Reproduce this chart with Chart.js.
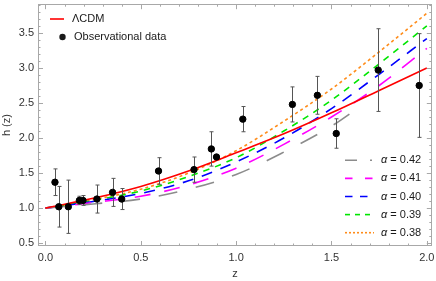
<!DOCTYPE html>
<html>
<head>
<meta charset="utf-8">
<script src="https://cdn.jsdelivr.net/npm/chart.js@4"></script>
<style>
  html, body { margin: 0; padding: 0; background: #fff; }
  #wrap { width: 436px; height: 281px; }
</style>
</head>
<body>
<div id="wrap"><canvas id="hzChart" width="436" height="281"></canvas></div>
<script>
// model curves at these z values
const zCurve = [0, 0.25, 0.5, 0.75, 1.0, 1.25, 1.5, 1.75, 2.0];
const hLCDM = [1.00, 1.14, 1.31, 1.53, 1.79, 2.06, 2.36, 2.68, 3.00];
const hA038 = [1.00, 1.12, 1.27, 1.50, 1.82, 2.24, 2.70, 3.23, 3.78];
const hA039 = [1.00, 1.11, 1.245, 1.45, 1.72, 2.10, 2.54, 3.06, 3.60];
const hA040 = [1.00, 1.095, 1.21, 1.39, 1.66, 2.00, 2.42, 2.91, 3.42];
const hA041 = [1.00, 1.08, 1.17, 1.33, 1.57, 1.91, 2.30, 2.75, 3.28];
const zA042 = [0, 0.25, 0.5, 0.75, 1.0, 1.25, 1.5, 1.65];
const hA042 = [1.00, 1.06, 1.13, 1.27, 1.48, 1.80, 2.17, 2.45];

// observational h(z) points with errors
const obsZ = [0.05, 0.07, 0.12, 0.178, 0.197, 0.27, 0.352, 0.40, 0.593, 0.779, 0.87, 0.897, 1.035, 1.295, 1.426, 1.525, 1.745, 1.96];
const obsH = [1.37, 1.02, 1.02, 1.11, 1.11, 1.13, 1.225, 1.13, 1.53, 1.55, 1.845, 1.73, 2.27, 2.48, 2.61, 2.065, 2.97, 2.75];
const obsErr = [0.19, 0.29, 0.38, 0.06, 0.07, 0.20, 0.20, 0.15, 0.19, 0.18, 0.245, 0.0, 0.18, 0.25, 0.27, 0.21, 0.59, 0.74];

const xTicks = [0, 0.5, 1.0, 1.5, 2.0];
const yTicks = [0.5, 1.0, 1.5, 2.0, 2.5, 3.0, 3.5];

const FONT = "'Liberation Sans', Arial, sans-serif";

function pts(xs, ys) {
    return xs.map((x, i) => ({ x: x, y: ys[i] }));
}

function curve(label, xs, ys, color, dash, order) {
    return {
        label: label,
        data: pts(xs, ys),
        showLine: true,
        borderColor: color,
        borderWidth: 1.6,
        borderDash: dash,
        pointRadius: 0,
        cubicInterpolationMode: 'monotone',
        order: order
    };
}

// legend entries drawn in the plot corner
const altLegend = [
    { text: '0.42', color: '#8c8c8c', dash: [12, 13, 2, 100] },
    { text: '0.41', color: '#ff00ff', dash: [7.5, 12.5] },
    { text: '0.40', color: '#0000ff', dash: [7.5, 7.5] },
    { text: '0.39', color: '#00e600', dash: [5, 5] },
    { text: '0.38', color: '#ff8c1a', dash: [2, 2] }
];

const framePlugin = {
    id: 'frame',
    beforeDatasetDraw(chart, args) {
        if (args.index !== 0) return;
        const ctx = chart.ctx, xs = chart.scales.x, ys = chart.scales.y;
        ctx.save();
        ctx.strokeStyle = '#555';
        ctx.lineWidth = 1;
        obsZ.forEach((z, i) => {
            if (!obsErr[i]) return;
            const px = Math.round(xs.getPixelForValue(z)) + 0.5;
            const top = ys.getPixelForValue(obsH[i] + obsErr[i]);
            const bot = ys.getPixelForValue(obsH[i] - obsErr[i]);
            ctx.beginPath();
            ctx.moveTo(px, top); ctx.lineTo(px, bot);
            ctx.moveTo(px - 2, top); ctx.lineTo(px + 2, top);
            ctx.moveTo(px - 2, bot); ctx.lineTo(px + 2, bot);
            ctx.stroke();
        });
        ctx.restore();
    },
    afterDraw(chart) {
        const ctx = chart.ctx, a = chart.chartArea;
        const xs = chart.scales.x, ys = chart.scales.y;
        ctx.save();
        ctx.strokeStyle = '#a8a8a8';
        ctx.lineWidth = 1;
        ctx.strokeRect(Math.round(a.left) + 0.5, Math.round(a.top) + 0.5,
            Math.round(a.right - a.left) - 1, Math.round(a.bottom - a.top) - 1);
        ctx.beginPath();
        for (let k = 0; k <= 20; k++) {
            const v = k / 10;
            const len = k % 5 === 0 ? 5 : 2.5;
            const px = Math.round(xs.getPixelForValue(v)) + 0.5;
            ctx.moveTo(px, a.bottom); ctx.lineTo(px, a.bottom - len);
            ctx.moveTo(px, a.top); ctx.lineTo(px, a.top + len);
        }
        for (let k = 5; k <= 39; k++) {
            const v = k / 10;
            const len = k % 5 === 0 ? 5 : 2.5;
            const py = Math.round(ys.getPixelForValue(v)) + 0.5;
            ctx.moveTo(a.left, py); ctx.lineTo(a.left + len, py);
            ctx.moveTo(a.right, py); ctx.lineTo(a.right - len, py);
        }
        ctx.stroke();

        // top-left legend
        ctx.font = '11px ' + FONT;
        ctx.fillStyle = '#1a1a1a';
        ctx.textBaseline = 'middle';
        ctx.strokeStyle = '#ff0000';
        ctx.lineWidth = 1.6;
        ctx.setLineDash([]);
        ctx.beginPath();
        ctx.moveTo(50, 19); ctx.lineTo(64, 19);
        ctx.stroke();
        ctx.fillText('\u039BCDM', 72, 19);
        ctx.beginPath();
        ctx.arc(62.5, 37, 3.2, 0, Math.PI * 2);
        ctx.fill();
        ctx.fillText('Observational data', 74, 37);

        // bottom-right legend
        altLegend.forEach((e, i) => {
            const y = 160.3 + i * 18.1;
            ctx.strokeStyle = e.color;
            ctx.lineWidth = 1.6;
            ctx.setLineDash(e.dash);
            ctx.beginPath();
            ctx.moveTo(345, y); ctx.lineTo(374, y);
            ctx.stroke();
            ctx.setLineDash([]);
            ctx.font = 'italic 11px ' + FONT;
            ctx.fillText('\u03B1', 381, y);
            const w = ctx.measureText('\u03B1').width;
            ctx.font = '11px ' + FONT;
            ctx.fillText(' = ' + e.text, 381 + w, y);
        });
        ctx.restore();
    }
};

const ctx = document.getElementById('hzChart').getContext('2d');
const hzChart = new Chart(ctx, {
    type: 'scatter',
    data: {
        datasets: [
            {
                label: 'Observational data',
                data: pts(obsZ, obsH),
                backgroundColor: '#000',
                borderColor: '#000',
                pointRadius: 3.2,
                pointHoverRadius: 3.2,
                order: 0
            },
            curve('\u039BCDM', zCurve, hLCDM, '#ff0000', [], 1),
            curve('\u03B1 = 0.42', zA042, hA042, '#8c8c8c', [19, 19], 2),
            curve('\u03B1 = 0.41', zCurve, hA041, '#ff00ff', [16, 14], 2),
            curve('\u03B1 = 0.40', zCurve, hA040, '#0000ff', [11, 9], 2),
            curve('\u03B1 = 0.39', zCurve, hA039, '#00e600', [6.5, 6], 2),
            curve('\u03B1 = 0.38', zCurve, hA038, '#ff8c1a', [3, 3], 2)
        ]
    },
    options: {
        responsive: false,
        animation: false,
        devicePixelRatio: 1,
        layout: { padding: { top: 1, right: 3, left: 0, bottom: 0 } },
        plugins: { legend: { display: false }, tooltip: { enabled: false } },
        scales: {
            x: {
                type: 'linear',
                min: -0.039,
                max: 2.026,
                afterBuildTicks: s => { s.ticks = xTicks.map(v => ({ value: v })); },
                afterFit: s => { s.height = 35; s.paddingLeft = 0; s.paddingRight = 0; },
                grid: { display: false, drawTicks: false },
                border: { display: false },
                ticks: {
                    padding: 5,
                    color: '#333',
                    font: { family: FONT, size: 11 },
                    callback: v => v.toFixed(1)
                },
                title: {
                    display: true,
                    text: 'z',
                    color: '#333',
                    font: { family: FONT, size: 11 },
                    padding: { top: 0, bottom: 0 }
                }
            },
            y: {
                type: 'linear',
                min: 0.46,
                max: 3.91,
                afterBuildTicks: s => { s.ticks = yTicks.map(v => ({ value: v })); },
                afterFit: s => { s.width = 38; s.paddingTop = 0; s.paddingBottom = 0; },
                grid: { display: false, drawTicks: false },
                border: { display: false },
                ticks: {
                    padding: 4,
                    color: '#333',
                    font: { family: FONT, size: 11 },
                    callback: v => v.toFixed(1)
                },
                title: {
                    display: true,
                    text: 'h (z)',
                    color: '#333',
                    font: { family: FONT, size: 11 },
                    padding: { top: 0, bottom: 0 }
                }
            }
        }
    },
    plugins: [framePlugin]
});
</script>
</body>
</html>
